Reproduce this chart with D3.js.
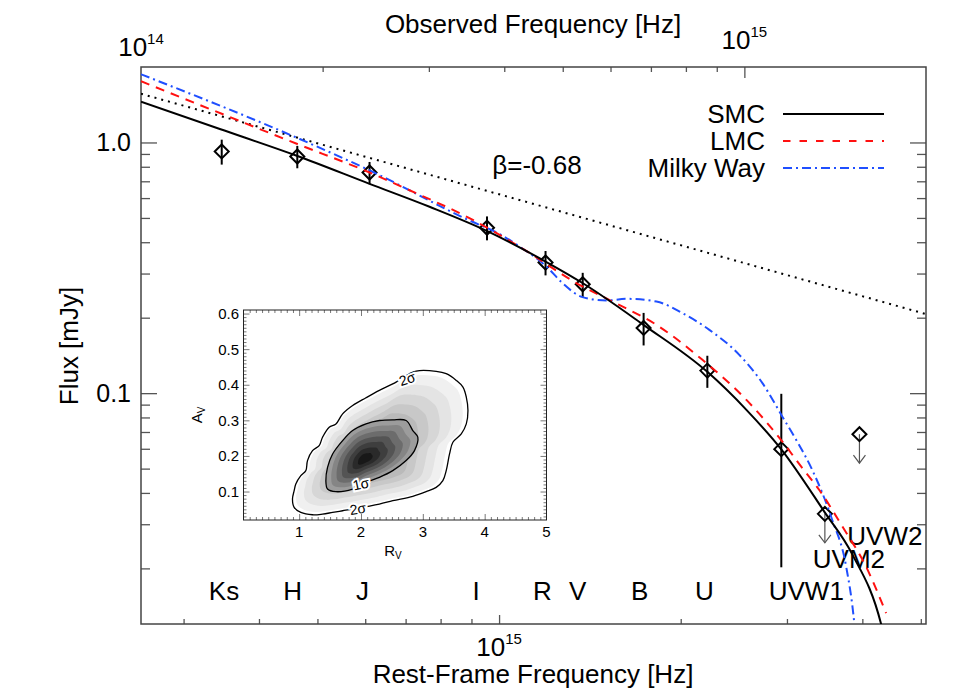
<!DOCTYPE html>
<html>
<head>
<meta charset="utf-8">
<title>Afterglow SED with extinction fits</title>
<style>
  body { margin: 0; background: #fff; }
  svg { display: block; font-family: "Liberation Sans", Arial, Helvetica, sans-serif; }
  .frame { fill: none; stroke: #444; stroke-width: 1.5px; }
  .tick line { stroke: #555; stroke-width: 1.3px; }
  .big { font-size: 26px; fill: #000; }
  .ticklab { font-size: 25px; fill: #000; }
  .small { font-size: 15px; fill: #000; }
  .model { fill: none; stroke-width: 2px; }
</style>
</head>
<body>
<svg width="969" height="692"></svg>
<script src="https://d3js.org/d3.v7.min.js"></script>
<script>
// redshift factor between observed and rest frame axes
const z = 1.55;

// photometry (rest-frame Hz, mJy)
const bands = ["Ks", "H", "J", "I", "R", "V", "B", "U", "UVW1", "UVM2", "UVW2"];
const bandNu = [3.47e14, 4.63e14, 6.10e14, 9.55e14, 1.194e15, 1.376e15, 1.736e15, 2.214e15, 2.936e15, 3.467e15, 3.956e15];
const bandFlux = [0.921, 0.879, 0.759, 0.457, 0.332, 0.272, 0.182, 0.123, 0.0598, 0.033, 0.0686];
const bandErr = [0.105, 0.09, 0.077, 0.05, 0.037, 0.03, 0.027, 0.018, 0.0396, 0, 0];
const isLimit = [false, false, false, false, false, false, false, false, false, true, true];
// where each band name is written
const labelNu = [3.50e14, 4.55e14, 5.94e14, 9.16e14, 1.18e15, 1.35e15, 1.71e15, 2.19e15, 3.23e15, 3.80e15, 4.36e15];
const labelFlux = [0.0150, 0.0150, 0.0150, 0.0150, 0.0150, 0.0150, 0.0150, 0.0150, 0.0150, 0.0201, 0.0248];

// extinction fits
const smcNu = [2.55e14, 3.445e14, 4.62e14, 6.10e14, 7.67e14, 9.54e14, 1.194e15, 1.375e15, 1.735e15, 2.214e15, 2.57e15, 2.936e15, 3.459e15, 3.848e15, 4.298e15, 4.38e15];
const smcFlux = [1.453, 1.131, 0.885, 0.684, 0.554, 0.444, 0.335, 0.275, 0.1873, 0.1216, 0.0858, 0.0597, 0.0337, 0.0228, 0.01197, 0.0099];
const lmcNu = [2.55e14, 4.62e14, 6.10e14, 7.03e14, 8.93e14, 1.102e15, 1.359e15, 1.541e15, 1.823e15, 2.173e15, 2.57e15, 2.948e15, 3.168e15, 3.394e15, 3.706e15, 4.058e15, 4.38e15];
const lmcFlux = [1.755, 0.988, 0.759, 0.652, 0.4992, 0.373, 0.2705, 0.232, 0.1873, 0.1358, 0.094, 0.0641, 0.0509, 0.0411, 0.0294, 0.0203, 0.01325];
const mwNu = [2.55e14, 4.674e14, 6.17e14, 8.93e14, 1.002e15, 1.081e15, 1.198e15, 1.274e15, 1.375e15, 1.507e15, 1.626e15, 1.823e15, 2.013e15, 2.231e15, 2.501e15, 2.732e15, 2.948e15, 3.108e15, 3.304e15, 3.566e15, 3.761e15, 3.879e15, 3.908e15];
const mwFlux = [1.871, 1.032, 0.764, 0.4884, 0.431, 0.3846, 0.32, 0.2748, 0.2416, 0.2342, 0.2378, 0.232, 0.2086, 0.1789, 0.1422, 0.1096, 0.0806, 0.0651, 0.0494, 0.0312, 0.0203, 0.01208, 0.0099];
// unextinguished power law, beta = -0.68
const plNu = [2.55e14, 5.08e15];
const plFlux = [1.564, 0.2073];

// inset: R_V / A_V confidence contours
const sig2Rv = [2.784, 2.568, 2.297, 2.081, 1.865, 1.703, 1.595, 1.486, 1.378, 1.324, 1.216, 1.135, 1.108, 1.027, 0.946, 0.919, 0.892, 0.919, 1.027, 1.216, 1.378, 1.541, 1.703, 1.865, 2.297, 2.514, 2.838, 3.054, 3.216, 3.324, 3.378, 3.432, 3.486, 3.622, 3.703, 3.73, 3.703, 3.649, 3.541, 3.378, 3.216, 2.892];
const sig2Av = [0.431, 0.4075, 0.384, 0.3634, 0.3418, 0.3183, 0.290, 0.2808, 0.2526, 0.2291, 0.215, 0.1869, 0.1587, 0.1446, 0.1211, 0.1023, 0.0789, 0.0554, 0.0413, 0.0347, 0.0366, 0.0413, 0.046, 0.0507, 0.0648, 0.0742, 0.0864, 0.0995, 0.1117, 0.1305, 0.1587, 0.2056, 0.2385, 0.262, 0.290, 0.3277, 0.3653, 0.3934, 0.4122, 0.431, 0.4376, 0.4385];
const sig1Rv = [1.865, 1.595, 1.459, 1.432, 1.459, 1.541, 1.703, 1.865, 2.081, 2.297, 2.514, 2.73, 2.838, 2.919, 2.865, 2.73, 2.514, 2.297, 2.081];
const sig1Av = [0.107, 0.0995, 0.107, 0.1305, 0.1681, 0.2056, 0.2432, 0.2714, 0.2901, 0.2995, 0.3014, 0.2995, 0.2714, 0.2526, 0.215, 0.1869, 0.1587, 0.1399, 0.1258];
const peakRv = 2.05, peakAv = 0.19;

const svg = d3.select("svg");

const xObs = d3.scaleLog().domain([1e14, 2e15]).range([141, 926]);
const xRest = d3.scaleLog().domain([1e14 * (1 + z), 2e15 * (1 + z)]).range([141, 926]);
const y = d3.scaleLog().domain([0.012, 2.0]).range([624, 67]);

svg.append("defs").append("clipPath").attr("id", "plotclip")
    .append("rect").attr("x", 141).attr("y", 67).attr("width", 785).attr("height", 557);

function ticks(g, axis) {
    g.call(axis);
    g.select(".domain").remove();
}

// minor / major ticks on the four sides
const restMajor = [1e15];
const restMinor = xRest.ticks().filter(v => v !== 1e15);
svg.append("g").attr("transform", "translate(0,624)")
    .call(ticks, d3.axisBottom(xRest).tickValues(restMinor).tickSize(-5).tickFormat(""));
svg.append("g").attr("transform", "translate(0,624)")
    .call(ticks, d3.axisBottom(xRest).tickValues(restMajor).tickSize(-9).tickFormat(""));

const obsMinor = xObs.ticks().filter(v => v !== 1e15 && v !== 1e14 && v !== 2e15);
svg.append("g").attr("transform", "translate(0,67)")
    .call(ticks, d3.axisTop(xObs).tickValues(obsMinor).tickSize(-5).tickFormat(""));
svg.append("g").attr("transform", "translate(0,67)")
    .call(ticks, d3.axisTop(xObs).tickValues([1e15]).tickSize(-11).tickFormat(""));

const yMajor = [0.1, 1];
const yMinor = y.ticks().filter(v => Math.abs(v - 0.1) > 1e-9 && Math.abs(v - 1) > 1e-9 && v < 1.9);
svg.append("g").attr("transform", "translate(141,0)")
    .call(ticks, d3.axisLeft(y).tickValues(yMinor).tickSize(-9).tickFormat(""));
svg.append("g").attr("transform", "translate(141,0)")
    .call(ticks, d3.axisLeft(y).tickValues(yMajor).tickSize(-16).tickFormat(""));
svg.append("g").attr("transform", "translate(926,0)")
    .call(ticks, d3.axisRight(y).tickValues(yMinor).tickSize(-9).tickFormat(""));
svg.append("g").attr("transform", "translate(926,0)")
    .call(ticks, d3.axisRight(y).tickValues(yMajor).tickSize(-16).tickFormat(""));

svg.append("rect").attr("class", "frame")
    .attr("x", 141).attr("y", 67).attr("width", 785).attr("height", 557);

// tick labels
svg.selectAll(".ylab").data(yMajor).enter().append("text")
    .attr("class", "ticklab")
    .attr("x", 131).attr("y", d => y(d) + 9)
    .attr("text-anchor", "end")
    .text(d => d3.format(".1f")(d));

function powerLabel(x, yy, base, exp) {
    const t = svg.append("text").attr("x", x).attr("y", yy).attr("text-anchor", "middle");
    t.append("tspan").attr("font-size", 26).text(base);
    t.append("tspan").attr("font-size", 15).attr("dy", -12).text(exp);
}
powerLabel(xObs(1e14), 56, "10", "14");
powerLabel(xObs(1e15), 49, "10", "15");
powerLabel(xRest(1e15), 656, "10", "15");

// axis titles
svg.append("text").attr("class", "big").attr("x", 533).attr("y", 33)
    .attr("text-anchor", "middle").text("Observed Frequency [Hz]");
svg.append("text").attr("class", "big").attr("x", 533).attr("y", 683)
    .attr("text-anchor", "middle").text("Rest-Frame Frequency [Hz]");
svg.append("text").attr("class", "big")
    .attr("transform", "translate(78,346) rotate(-90)")
    .attr("text-anchor", "middle").text("Flux [mJy]");

// band names
svg.selectAll(".band").data(bands).enter().append("text")
    .attr("class", "big")
    .attr("x", (d, i) => xRest(labelNu[i]))
    .attr("y", (d, i) => y(labelFlux[i]))
    .attr("text-anchor", "middle")
    .text(d => d);

// ---- inset ----
const ix = d3.scaleLinear().domain([0.1, 5]).range([243.5, 546.5]);
const iy = d3.scaleLinear().domain([0.02, 0.61]).range([520, 310]);
const inset = svg.append("g");
inset.append("rect").attr("x", 243.5).attr("y", 310).attr("width", 303).attr("height", 210)
    .attr("fill", "#fff");

const contourLine = d3.line().x(d => d[0]).y(d => d[1]).curve(d3.curveCatmullRomClosed.alpha(0.5));
const sig2 = sig2Rv.map((v, i) => [ix(v), iy(sig2Av[i])]);
const sig1 = sig1Rv.map((v, i) => [ix(v), iy(sig1Av[i])]);
const px = ix(peakRv), py = iy(peakAv);
const shrink = (pts, s) => pts.map(p => [px + (p[0] - px) * s, py + (p[1] - py) * s]);

const outerShades = [[0.95, "#f0f0f0"], [0.84, "#e4e4e4"], [0.73, "#d6d6d6"], [0.62, "#c8c8c8"], [0.52, "#bababa"]];
const innerShades = [[1.0, "#9c9c9c"], [0.86, "#858585"], [0.72, "#6c6c6c"], [0.58, "#545454"], [0.44, "#3e3e3e"], [0.3, "#2a2a2a"], [0.16, "#181818"]];
outerShades.forEach(([s, c]) => inset.append("path").attr("d", contourLine(shrink(sig2, s))).attr("fill", c));
innerShades.forEach(([s, c]) => inset.append("path").attr("d", contourLine(shrink(sig1, s))).attr("fill", c));
inset.append("path").attr("d", contourLine(sig2)).attr("fill", "none").attr("stroke", "#000").attr("stroke-width", 1.3);
inset.append("path").attr("d", contourLine(sig1)).attr("fill", "none").attr("stroke", "#000").attr("stroke-width", 1.3);

const contourLabels = [["2σ", 2.75, 0.415, -18], ["1σ", 2.0, 0.12, -12], ["2σ", 1.95, 0.05, -8]];
contourLabels.forEach(([t, rv, av, rot]) => {
    inset.append("text")
        .attr("transform", `translate(${ix(rv)},${iy(av)}) rotate(${rot})`)
        .attr("text-anchor", "middle").attr("dy", 4.5).attr("font-size", 14)
        .attr("stroke", "#fff").attr("stroke-width", 4).attr("paint-order", "stroke")
        .text(t);
});

// inset ticks
const rvMinor = d3.range(2, 50).map(i => i / 10).filter(v => Math.abs(v - Math.round(v)) > 1e-6);
const avMinor = d3.range(3, 61).map(i => i / 100).filter(v => Math.abs(v * 10 - Math.round(v * 10)) > 1e-6);
const rvMajor = [1, 2, 3, 4];
const avMajor = [0.1, 0.2, 0.3, 0.4, 0.5, 0.6];
[[520, d3.axisBottom], [310, d3.axisTop]].forEach(([yy, ax]) => {
    inset.append("g").attr("transform", `translate(0,${yy})`)
        .call(ticks, ax(ix).tickValues(rvMinor).tickSize(-3).tickFormat(""));
    inset.append("g").attr("transform", `translate(0,${yy})`)
        .call(ticks, ax(ix).tickValues(rvMajor).tickSize(-6).tickFormat(""));
});
[[243.5, d3.axisLeft], [546.5, d3.axisRight]].forEach(([xx, ax]) => {
    inset.append("g").attr("transform", `translate(${xx},0)`)
        .call(ticks, ax(iy).tickValues(avMinor).tickSize(-3).tickFormat(""));
    inset.append("g").attr("transform", `translate(${xx},0)`)
        .call(ticks, ax(iy).tickValues(avMajor).tickSize(-6).tickFormat(""));
});
inset.selectAll(".tick line").attr("stroke", "#666").style("stroke-width", "0.8px");
inset.append("rect").attr("x", 243.5).attr("y", 310).attr("width", 303).attr("height", 210)
    .attr("fill", "none").attr("stroke", "#222").attr("stroke-width", 1);

inset.selectAll(".rvlab").data([1, 2, 3, 4, 5]).enter().append("text")
    .attr("class", "small").attr("x", d => ix(d)).attr("y", 537)
    .attr("text-anchor", "middle").text(d => d);
inset.selectAll(".avlab").data(avMajor).enter().append("text")
    .attr("class", "small").attr("x", 239).attr("y", d => iy(d) + 5.5)
    .attr("text-anchor", "end").text(d => d.toFixed(1));
const rvTitle = inset.append("text").attr("class", "small").attr("x", 393).attr("y", 556).attr("text-anchor", "middle");
rvTitle.append("tspan").text("R");
rvTitle.append("tspan").attr("font-size", 10).attr("dy", 3).text("V");
const avTitle = inset.append("text").attr("class", "small")
    .attr("transform", "translate(202,415) rotate(-90)").attr("text-anchor", "middle");
avTitle.append("tspan").text("A");
avTitle.append("tspan").attr("font-size", 10).attr("dy", 3).text("V");

// ---- data points ----
const pts = svg.append("g");
bands.forEach((b, i) => {
    const cx = xRest(bandNu[i]), cy = y(bandFlux[i]);
    if (!isLimit[i]) {
        pts.append("line")
            .attr("x1", cx).attr("x2", cx)
            .attr("y1", y(bandFlux[i] + bandErr[i])).attr("y2", y(bandFlux[i] - bandErr[i]))
            .attr("stroke", "#000").attr("stroke-width", 2);
    } else {
        pts.append("line").attr("x1", cx).attr("x2", cx).attr("y1", cy).attr("y2", cy + 29)
            .attr("stroke", "#555").attr("stroke-width", 1.2);
        pts.append("path").attr("d", `M${cx - 6},${cy + 21}L${cx},${cy + 29}L${cx + 6},${cy + 21}`)
            .attr("fill", "none").attr("stroke", "#555").attr("stroke-width", 1.2);
    }
    pts.append("path")
        .attr("d", `M${cx - 7},${cy}L${cx},${cy - 7}L${cx + 7},${cy}L${cx},${cy + 7}Z`)
        .attr("fill", "none").attr("stroke", "#000").attr("stroke-width", 2);
});

// ---- model curves ----
const curve = d3.line().x(d => xRest(d[0])).y(d => y(d[1])).curve(d3.curveMonotoneX);
const curves = svg.append("g").attr("clip-path", "url(#plotclip)");
curves.append("path").attr("class", "model").attr("stroke", "#000").attr("stroke-dasharray", "2,5")
    .attr("d", curve(plNu.map((v, i) => [v, plFlux[i]])));
curves.append("path").attr("class", "model").attr("stroke", "#1f4fff").attr("stroke-dasharray", "9,4,2,4")
    .attr("d", curve(mwNu.map((v, i) => [v, mwFlux[i]])));
curves.append("path").attr("class", "model").attr("stroke", "#ff1010").attr("stroke-dasharray", "9,7")
    .attr("d", curve(lmcNu.map((v, i) => [v, lmcFlux[i]])));
curves.append("path").attr("class", "model").attr("stroke", "#000")
    .attr("d", curve(smcNu.map((v, i) => [v, smcFlux[i]])));

svg.append("text").attr("class", "big").attr("x", 537).attr("y", 174)
    .attr("text-anchor", "middle").text("β=-0.68");

// ---- legend ----
const legendNames = ["SMC", "LMC", "Milky Way"];
const legendColor = ["#000", "#ff1010", "#1f4fff"];
const legendDash = [null, "7.5,9", "9,4,2,4"];
legendNames.forEach((n, i) => {
    const ly = 114 + i * 27;
    svg.append("text").attr("class", "big").attr("x", 765).attr("y", ly + 8.5)
        .attr("text-anchor", "end").text(n);
    svg.append("line").attr("x1", 783).attr("x2", 884).attr("y1", ly).attr("y2", ly)
        .attr("stroke", legendColor[i]).attr("stroke-width", 2)
        .attr("stroke-dasharray", legendDash[i]);
});
</script>
</body>
</html>
